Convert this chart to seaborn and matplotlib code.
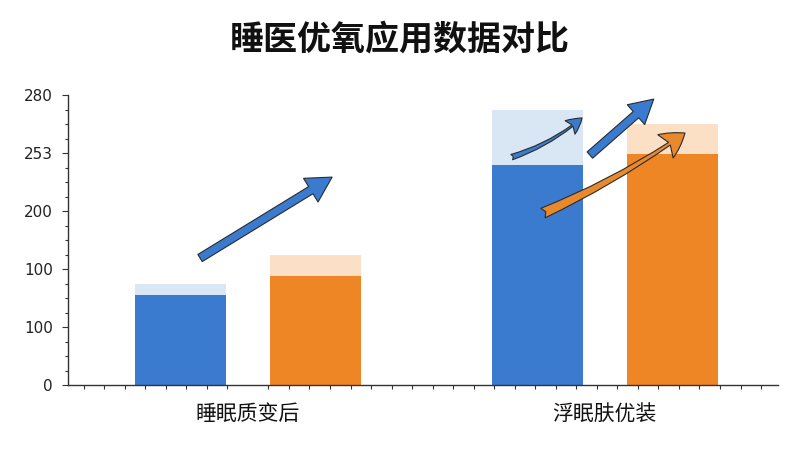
import matplotlib
matplotlib.use('Agg')
import pandas as pd
import matplotlib.pyplot as plt
import seaborn as sns
from matplotlib.ticker import MultipleLocator

# 数据
categories = ['睡眠质变后', '浮眠肤优装']
series = ['蓝', '橙']
base_values = [[78, 94], [190, 199]]    # 深色部分
total_values = [[87, 112], [237, 225]]  # 含浅色顶部
y_ticks = [0, 50, 100, 150, 200, 250]
y_tick_labels = ['0', '100', '100', '200', '253', '280']
title = '睡医优氧应用数据对比'

rows = []
for i, cat in enumerate(categories):
    for j, s in enumerate(series):
        rows.append({'类别': cat, '系列': s, '基础': base_values[i][j], '总计': total_values[i][j]})
df = pd.DataFrame(rows)

sns.set_style('white')
plt.rcParams['font.family'] = ['Noto Sans CJK SC', 'DejaVu Sans']

dark = {'蓝': '#3A7BCF', '橙': '#EF8626'}
light = {'蓝': '#D9E6F3', '橙': '#FBE0C6'}

fig = plt.figure(figsize=(8, 4.5), dpi=100)
ax = fig.add_axes([0.085, 0.1444, 0.8875, 0.6444])

sns.barplot(data=df, x='类别', y='总计', hue='系列', hue_order=series, palette=light,
            width=0.756, gap=0.325, saturation=1, errorbar=None, legend=False,
            linewidth=0, ax=ax)
sns.barplot(data=df, x='类别', y='基础', hue='系列', hue_order=series, palette=dark,
            width=0.756, gap=0.325, saturation=1, errorbar=None, legend=False,
            linewidth=0, ax=ax)

ax.set_xlim(-0.504, 1.485)
ax.set_ylim(0, 250)
ax.set_yticks(y_ticks)
ax.set_yticklabels(y_tick_labels, fontfamily='DejaVu Sans')
ax.yaxis.set_minor_locator(MultipleLocator(12.5))
ax.xaxis.set_minor_locator(MultipleLocator(0.0575))
ax.set_xlabel('')
ax.set_ylabel('')

for side in ['top', 'right']:
    ax.spines[side].set_visible(False)
for side in ['left', 'bottom']:
    ax.spines[side].set_color('#333333')
    ax.spines[side].set_linewidth(1.0)

ax.tick_params(axis='y', which='major', left=True, length=4, width=0.8, color='#333333',
               labelsize=11, labelcolor='#222222', pad=7)
ax.tick_params(axis='y', which='minor', left=True, length=2.5, width=0.8, color='#333333')
ax.tick_params(axis='x', which='major', bottom=False, length=0, labelsize=15,
               labelcolor='#111111', pad=13)
ax.tick_params(axis='x', which='minor', bottom=True, length=3, width=0.8, color='#333333')

fig.text(0.5, 0.913, title, ha='center', va='center', fontsize=24.5, fontweight='bold', color='#111111')

# 装饰箭头
arrows = [
    ((0.186, 0.438), (0.372, 0.717), '#3A7BCF', 'simple,head_length=1.8,head_width=2.0,tail_width=0.6', 0.0),
    ((0.625, 0.786), (0.724, 0.921), '#3A7BCF', 'fancy,head_length=1.1,head_width=1.2,tail_width=0.4', 0.1),
    ((0.735, 0.793), (0.825, 0.986), '#3A7BCF', 'simple,head_length=1.7,head_width=1.9,tail_width=0.6', 0.0),
    ((0.669, 0.593), (0.869, 0.869), '#E8892E', 'fancy,head_length=1.7,head_width=2.0,tail_width=0.75', 0.05),
]
for tail, tip, col, style, rad in arrows:
    ax.annotate('', xy=tip, xytext=tail, xycoords='axes fraction', textcoords='axes fraction',
                arrowprops=dict(arrowstyle=style, fc=col, ec='#2b2b2b', lw=0.8,
                                shrinkA=0, shrinkB=0, mutation_scale=10,
                                connectionstyle=f'arc3,rad={rad}'),
                annotation_clip=False)

fig.savefig('out.png', dpi=100, facecolor='white')
